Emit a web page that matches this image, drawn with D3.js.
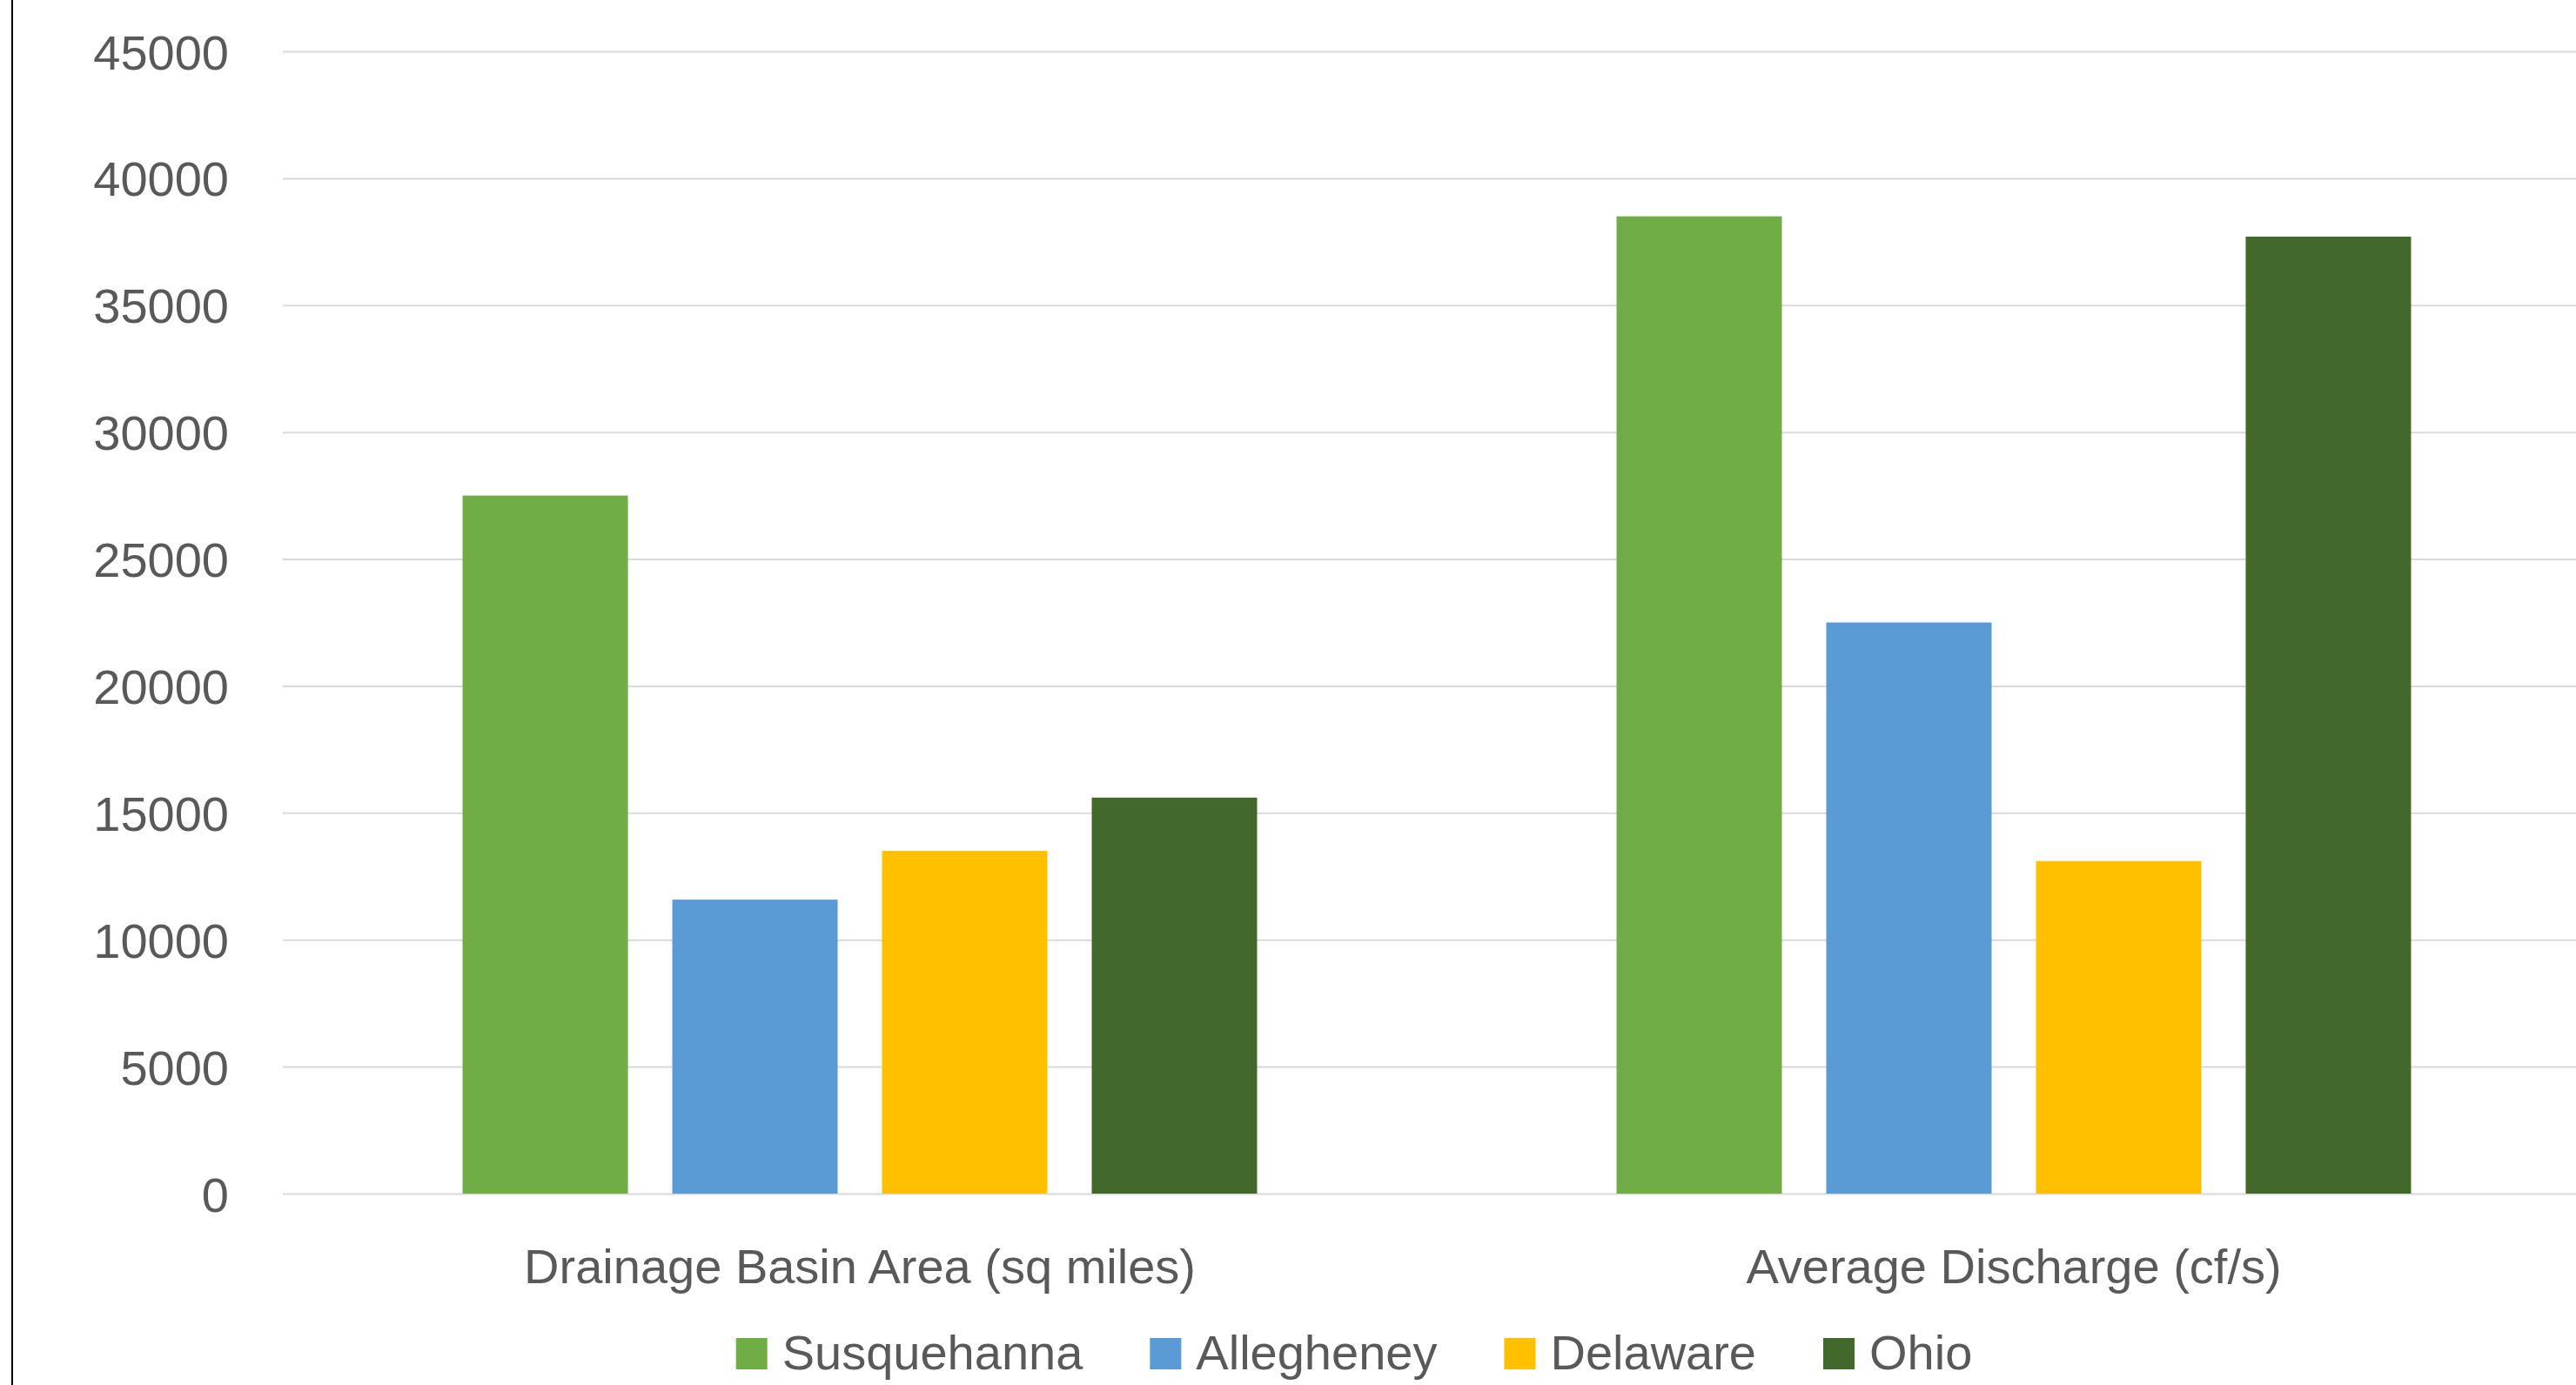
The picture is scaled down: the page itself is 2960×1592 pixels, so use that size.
<!DOCTYPE html>
<html>
<head>
<meta charset="utf-8">
<script src="https://cdn.jsdelivr.net/npm/d3@7"></script>
<style>
  html, body { margin: 0; padding: 0; background: #ffffff; }
  svg { display: block; }
  text { font-family: "Liberation Sans", Arial, sans-serif; fill: #595959; }
</style>
</head>
<body>
<svg id="chart" width="2960" height="1592"></svg>
<script>
// ---- data ----
const categories = ["Drainage Basin Area (sq miles)", "Average Discharge (cf/s)"];
const seriesNames = ["Susquehanna", "Allegheney", "Delaware", "Ohio"];
const susquehanna = [27500, 38500];
const allegheney  = [11580, 22500];
const delaware    = [13500, 13100];
const ohio        = [15600, 37700];
const seriesColors = ["#70AD47", "#5B9BD5", "#FFC000", "#43682B"];
const yTicks = [0, 5000, 10000, 15000, 20000, 25000, 30000, 35000, 40000, 45000];

const seriesValues = [susquehanna, allegheney, delaware, ohio];

// ---- layout ----
const W = 2960, H = 1592;
const plotLeft = 325, plotRight = 2977, plotTop = 59, plotBottom = 1372;
const fontSize = 56;

const svg = d3.select("#chart");
svg.append("rect").attr("x", 0).attr("y", 0).attr("width", W).attr("height", H).attr("fill", "#fff");

const y = d3.scaleLinear().domain([0, 45000]).range([plotBottom, plotTop]);
const x0 = d3.scaleBand().domain(categories).range([plotLeft, plotRight])
  .paddingInner(0.3115).paddingOuter(0.15575);
const x1 = d3.scaleBand().domain(seriesNames).range([0, x0.bandwidth()])
  .paddingInner(0.2116).paddingOuter(0);
const color = d3.scaleOrdinal().domain(seriesNames).range(seriesColors);

// gridlines + y labels
const yAxis = d3.axisLeft(y).tickValues(yTicks).tickFormat(d3.format("d"))
  .tickSize(-(plotRight - plotLeft)).tickPadding(62);
const gy = svg.append("g").attr("transform", `translate(${plotLeft},0)`).call(yAxis);
gy.select(".domain").remove();
gy.selectAll(".tick line").attr("stroke", "#d9d9d9").attr("stroke-width", 2);
gy.selectAll(".tick text")
  .attr("font-family", "Liberation Sans, Arial, sans-serif")
  .attr("font-size", fontSize).attr("fill", "#595959").attr("dy", "0.358em");

// bars
const rows = categories.map((c, i) => ({ cat: c, vals: seriesNames.map((s, j) => ({ s, v: seriesValues[j][i] })) }));
const groups = svg.append("g").selectAll("g").data(rows).join("g")
  .attr("transform", d => `translate(${x0(d.cat)},0)`);
groups.selectAll("rect").data(d => d.vals).join("rect")
  .attr("x", d => x1(d.s))
  .attr("y", d => y(d.v))
  .attr("width", x1.bandwidth())
  .attr("height", d => y(0) - y(d.v))
  .attr("fill", d => color(d.s));

// category labels
const xAxis = d3.axisBottom(x0).tickSize(0).tickPadding(0);
const gx = svg.append("g").attr("transform", `translate(0,${plotBottom})`).call(xAxis);
gx.select(".domain").remove();
gx.selectAll(".tick text")
  .attr("font-family", "Liberation Sans, Arial, sans-serif")
  .attr("font-size", fontSize).attr("fill", "#595959")
  .attr("y", 1475 - plotBottom).attr("dy", 0);

// legend
const legend = svg.append("g");
const sq = 36, gapText = 17, gapItem = 77, legendBaseline = 1574, legendCenter = 1556;
let cx = 0;
seriesNames.forEach((s) => {
  const g = legend.append("g");
  g.append("rect").attr("x", 0).attr("y", legendBaseline - sq).attr("width", sq).attr("height", sq).attr("fill", color(s));
  const t = g.append("text").attr("x", sq + gapText).attr("y", legendBaseline)
    .attr("font-size", fontSize).text(s);
  const w = t.node().getComputedTextLength();
  g.attr("transform", `translate(${cx},0)`);
  cx += sq + gapText + w + gapItem;
});
const total = cx - gapItem;
legend.attr("transform", `translate(${legendCenter - total / 2},0)`);

// left border line
svg.append("line").attr("x1", 14).attr("x2", 14).attr("y1", 0).attr("y2", H)
  .attr("stroke", "#000").attr("stroke-width", 2);
</script>
</body>
</html>
